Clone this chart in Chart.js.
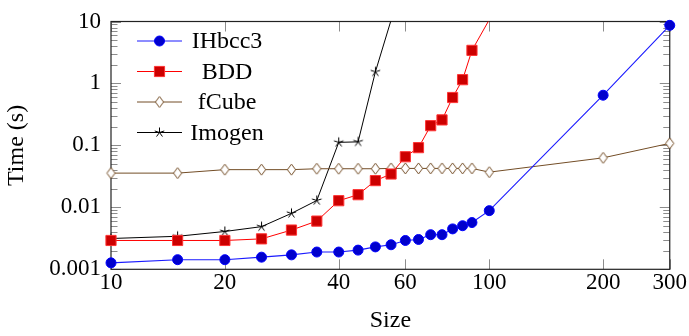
<!DOCTYPE html>
<html>
<head>
<meta charset="utf-8">
<script src="https://cdn.jsdelivr.net/npm/chart.js@4/dist/chart.umd.min.js"></script>
<style>
  html, body { margin: 0; padding: 0; background: #fff; }
  #wrap { width: 689px; height: 336px; }
</style>
</head>
<body>
<div id="wrap"><canvas id="timeChart" width="689" height="336"></canvas></div>
<script>
// problem sizes and run times (s) for each solver
const sizesIHbcc3 = [10, 15, 20, 25, 30, 35, 40, 45, 50, 55, 60, 65, 70, 75, 80, 85, 90, 100, 200, 300];
const timesIHbcc3 = [0.00127, 0.00143, 0.00143, 0.00157, 0.00171, 0.0019, 0.0019, 0.00204, 0.0023, 0.00249,
  0.00292, 0.00303, 0.00362, 0.00362, 0.00449, 0.00505, 0.00568, 0.00885, 0.646, 8.67];

const sizesBDD = [10, 15, 20, 25, 30, 35, 40, 45, 50, 55, 60, 65, 70, 75, 80, 85, 90, 100];
const timesBDD = [0.00292, 0.00292, 0.00292, 0.0031, 0.0043, 0.006, 0.0128, 0.016, 0.027, 0.0345,
  0.0656, 0.092, 0.208, 0.258, 0.593, 1.15, 3.42, 10.7];

const sizesFCube = [10, 15, 20, 25, 30, 35, 40, 45, 50, 55, 60, 65, 70, 75, 80, 85, 90, 100, 200, 300];
const timesFCube = [0.0357, 0.0357, 0.0406, 0.0406, 0.0406, 0.042, 0.042, 0.042, 0.042, 0.0425,
  0.0425, 0.0425, 0.0425, 0.0425, 0.0425, 0.0425, 0.0425, 0.037, 0.063, 0.108];

const sizesImogen = [10, 15, 20, 25, 30, 35, 40, 45, 50, 55];
const timesImogen = [0.00314, 0.00341, 0.00408, 0.00488, 0.008, 0.0129, 0.112, 0.114, 1.54, 10.5];

const seriesNames = ["IHbcc3", "BDD", "fCube", "Imogen"];

const xTickValues = [10, 20, 40, 60, 100, 200, 300];
const xTickLabels = ["10", "20", "40", "60", "100", "200", "300"];
const yTickValues = [0.001, 0.01, 0.1, 1, 10];
const yTickLabels = ["0.001", "0.01", "0.1", "1", "10"];

const X_MIN = 10, X_MAX = 300, Y_MIN = 0.001, Y_MAX = 10;

const serif = "'Liberation Serif', 'Times New Roman', serif";
const tickFont = { family: serif, size: 23, lineHeight: 1 };
const titleFont = { family: serif, size: 24, lineHeight: 1 };

const brown = "#734d26";

const toPoints = (xs, ys) => xs.map((x, i) => ({ x: x, y: ys[i] }));

// small canvas markers for the open diamond and the 5-arm star
function makeDiamond() {
  const c = document.createElement("canvas");
  c.width = 13; c.height = 15;
  const g = c.getContext("2d");
  g.strokeStyle = brown;
  g.fillStyle = "#fff";
  g.lineWidth = 1;
  g.beginPath();
  g.moveTo(6.5, 2);
  g.lineTo(10.6, 7.5);
  g.lineTo(6.5, 13);
  g.lineTo(2.4, 7.5);
  g.closePath();
  g.fill();
  g.stroke();
  return c;
}

function makeStar() {
  const c = document.createElement("canvas");
  c.width = 13; c.height = 13;
  const g = c.getContext("2d");
  g.strokeStyle = "#000";
  g.lineWidth = 1;
  g.beginPath();
  for (let k = 0; k < 5; k++) {
    const a = (90 + 72 * k) * Math.PI / 180;
    g.moveTo(6.5, 6.5);
    g.lineTo(6.5 + 5 * Math.cos(a), 6.5 - 5 * Math.sin(a));
  }
  g.stroke();
  return c;
}

const diamondMark = makeDiamond();
const starMark = makeStar();

// hide marks that sit above the top of the axis
const radiusInside = (r) => (ctx) => (ctx.raw && ctx.raw.y > Y_MAX ? 0 : r);

const datasets = [
  {
    label: seriesNames[0],
    data: toPoints(sizesIHbcc3, timesIHbcc3),
    borderColor: "#1a1aff",
    borderWidth: 1.1,
    pointStyle: "circle",
    pointRadius: radiusInside(5),
    pointBackgroundColor: "#0000cc",
    pointBorderColor: "#0000ff",
    pointBorderWidth: 1,
    clip: { left: 10, right: 10, top: 4, bottom: 10 },
  },
  {
    label: seriesNames[1],
    data: toPoints(sizesBDD, timesBDD),
    borderColor: "#ff0000",
    borderWidth: 1,
    pointStyle: "rect",
    pointRadius: radiusInside(7.2),
    pointBackgroundColor: "#cc0000",
    pointBorderColor: "#ff3333",
    pointBorderWidth: 1,
    clip: { left: 10, right: 10, top: 0, bottom: 10 },
  },
  {
    label: seriesNames[2],
    data: toPoints(sizesFCube, timesFCube),
    borderColor: brown,
    borderWidth: 1,
    pointStyle: diamondMark,
    pointRadius: radiusInside(5),
    clip: { left: 10, right: 10, top: 4, bottom: 10 },
  },
  {
    label: seriesNames[3],
    data: toPoints(sizesImogen, timesImogen),
    borderColor: "#000000",
    borderWidth: 1,
    pointStyle: starMark,
    pointRadius: radiusInside(5),
    clip: { left: 10, right: 10, top: 0, bottom: 10 },
  },
];

// frame round the plot with inward ticks on all four sides
const frameTicks = {
  id: "frameTicks",
  beforeDatasetsDraw(chart) {
    const { ctx, chartArea, scales } = chart;
    const { left, right, top, bottom } = chartArea;
    const major = 10, minor = 6.5;
    ctx.save();
    ctx.strokeStyle = "#8c8c8c";
    ctx.lineWidth = 1;
    ctx.beginPath();
    xTickValues.forEach((v) => {
      const px = Math.round(scales.x.getPixelForValue(v)) + 0.5;
      ctx.moveTo(px, bottom); ctx.lineTo(px, bottom - major);
      ctx.moveTo(px, top); ctx.lineTo(px, top + major);
    });
    yTickValues.forEach((d, i) => {
      const py = Math.round(scales.y.getPixelForValue(d)) + 0.5;
      ctx.moveTo(left, py); ctx.lineTo(left + major, py);
      ctx.moveTo(right, py); ctx.lineTo(right - major, py);
      if (i === yTickValues.length - 1) return;
      for (let k = 2; k <= 9; k++) {
        const pm = Math.round(scales.y.getPixelForValue(d * k)) + 0.5;
        ctx.moveTo(left, pm); ctx.lineTo(left + minor, pm);
        ctx.moveTo(right, pm); ctx.lineTo(right - minor, pm);
      }
    });
    ctx.stroke();
    ctx.strokeStyle = "#222";
    ctx.lineWidth = 1.2;
    ctx.strokeRect(left, top, right - left, bottom - top);
    ctx.restore();
  },
};

function drawMark(ctx, ds, x, y) {
  const st = ds.pointStyle;
  if (typeof st === "object") {
    ctx.drawImage(st, x - st.width / 2, y - st.height / 2);
    return;
  }
  ctx.fillStyle = ds.pointBackgroundColor;
  ctx.strokeStyle = ds.pointBorderColor;
  ctx.lineWidth = ds.pointBorderWidth;
  ctx.beginPath();
  if (st === "circle") {
    ctx.arc(x, y, 5, 0, Math.PI * 2);
  } else {
    const h = 7.2 * Math.SQRT1_2;
    ctx.rect(x - h, y - h, 2 * h, 2 * h);
  }
  ctx.fill();
  ctx.stroke();
}

// legend: line sample with mark, name centred to the right
const lineLegend = {
  id: "lineLegend",
  afterDatasetsDraw(chart) {
    const ctx = chart.ctx;
    const x0 = 137, x1 = 182, textX = 227, rowY = 41, rowGap = 30.5;
    ctx.save();
    chart.data.datasets.forEach((ds, i) => {
      const y = rowY + i * rowGap;
      ctx.strokeStyle = ds.borderColor;
      ctx.lineWidth = 1;
      ctx.beginPath();
      ctx.moveTo(x0, y); ctx.lineTo(x1, y);
      ctx.stroke();
      drawMark(ctx, ds, (x0 + x1) / 2, y);
      ctx.fillStyle = "#000";
      ctx.font = "24px " + serif;
      ctx.textAlign = "center";
      ctx.textBaseline = "middle";
      ctx.fillText(ds.label, textX, y + 1);
    });
    ctx.restore();
  },
};

new Chart(document.getElementById("timeChart"), {
  type: "line",
  data: { datasets: datasets },
  options: {
    responsive: false,
    animation: false,
    events: [],
    layout: { padding: { top: 12.3, right: 17, left: 0, bottom: 0 } },
    plugins: { legend: { display: false }, tooltip: { enabled: false } },
    scales: {
      x: {
        type: "logarithmic",
        min: X_MIN,
        max: X_MAX,
        position: "bottom",
        grid: { display: false, drawTicks: false },
        border: { display: false },
        afterBuildTicks: (s) => { s.ticks = xTickValues.map((v) => ({ value: v })); },
        afterFit: (s) => { s.height = 66.7; },
        ticks: {
          callback: (v, i) => xTickLabels[i],
          font: tickFont,
          color: "#000",
          padding: 2,
          maxRotation: 0,
          autoSkip: false,
        },
        title: { display: true, text: "Size", font: titleFont, color: "#000", padding: { top: 0, bottom: 3 } },
      },
      y: {
        type: "logarithmic",
        min: Y_MIN,
        max: Y_MAX,
        grid: { display: false, drawTicks: false },
        border: { display: false },
        afterBuildTicks: (s) => { s.ticks = yTickValues.map((v) => ({ value: v })); },
        afterFit: (s) => { s.width = 111; },
        ticks: {
          callback: (v, i) => yTickLabels[i],
          font: tickFont,
          color: "#000",
          padding: 10,
          autoSkip: false,
        },
        title: { display: true, text: "Time (s)", font: titleFont, color: "#000", padding: { top: 5, bottom: 0 } },
      },
    },
  },
  plugins: [frameTicks, lineLegend],
});
</script>
</body>
</html>
